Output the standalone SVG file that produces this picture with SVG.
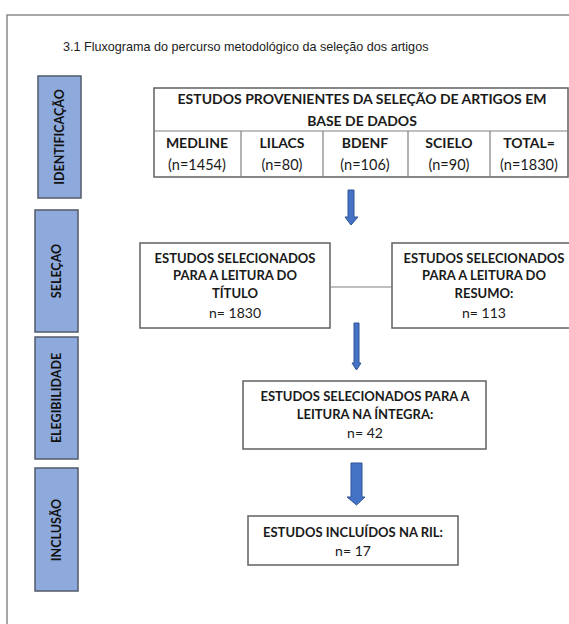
<svg xmlns="http://www.w3.org/2000/svg" width="569" height="624" viewBox="0 0 569 624">
<defs>
<style>
.frame{fill:none;stroke:#8a8a8a;stroke-width:1.5}
.side{fill:#8eaadc;stroke:#505a6a;stroke-width:1.5}
.side-t{font-family:Lato,"Open Sans",sans-serif;font-weight:700;font-size:12.5px;fill:#111;text-anchor:middle}
.box{fill:#fff;stroke:#606060;stroke-width:1.5}
.b{font-family:Lato,"Open Sans",sans-serif;font-weight:700;font-size:13px;fill:#1a1a1a;text-anchor:middle}
.tb{font-size:14px}
.r{font-family:Lato,"Open Sans",sans-serif;font-weight:400;font-size:14px;fill:#1a1a1a;text-anchor:middle}
.tr{font-size:14.5px}
.arrow{fill:#4472c4;stroke:#2f5597;stroke-width:1}
.line{stroke:#808080;stroke-width:1.2;fill:none}
.title{font-family:"Liberation Sans",Arial,sans-serif;font-size:12.6px;fill:#222}
</style>
</defs>
<rect width="569" height="624" fill="#fff"/>
<rect class="frame" x="7" y="15" width="580" height="640"/>
<text class="title" x="63" y="51">3.1 Fluxograma do percurso metodológico da seleção dos artigos</text>

<g id="stage-identificacao">
<rect class="side" x="38" y="76" width="43" height="122"/>
<text class="side-t" transform="translate(64,137) rotate(-90)">IDENTIFICAÇÃO</text>
</g>
<g id="stage-selecao">
<rect class="side" x="35" y="210" width="43" height="122"/>
<text class="side-t" transform="translate(61,271) rotate(-90)">SELEÇAO</text>
</g>
<g id="stage-elegibilidade">
<rect class="side" x="35" y="337" width="43" height="122"/>
<text class="side-t" transform="translate(61,398) rotate(-90)">ELEGIBILIDADE</text>
</g>
<g id="stage-inclusao">
<rect class="side" x="35" y="468" width="43" height="123"/>
<text class="side-t" transform="translate(61,530) rotate(-90)">INCLUSÃO</text>
</g>

<g id="databases">
<rect class="box" x="154" y="88" width="414" height="89"/>
<line class="line" x1="154" y1="131" x2="568" y2="131"/>
<line class="line" x1="241" y1="131" x2="241" y2="177"/>
<line class="line" x1="323" y1="131" x2="323" y2="177"/>
<line class="line" x1="408" y1="131" x2="408" y2="177"/>
<line class="line" x1="490" y1="131" x2="490" y2="177"/>
<text class="b tb" x="362" y="104">ESTUDOS PROVENIENTES DA SELEÇÃO DE ARTIGOS EM</text>
<text class="b tb" x="362" y="126">BASE DE DADOS</text>
<text class="b tb" x="197" y="148">MEDLINE</text>
<text class="r tr" x="197" y="170">(n=1454)</text>
<text class="b tb" x="282" y="148">LILACS</text>
<text class="r tr" x="282" y="170">(n=80)</text>
<text class="b tb" x="365" y="148">BDENF</text>
<text class="r tr" x="365" y="170">(n=106)</text>
<text class="b tb" x="449" y="148">SCIELO</text>
<text class="r tr" x="449" y="170">(n=90)</text>
<text class="b tb" x="529" y="148">TOTAL=</text>
<text class="r tr" x="529" y="170">(n=1830)</text>
</g>

<g id="titulo">
<rect class="box" x="140" y="243" width="190" height="85"/>
<text class="b" x="235" y="263">ESTUDOS SELECIONADOS</text>
<text class="b" x="235" y="280">PARA A LEITURA DO</text>
<text class="b" x="235" y="298">TÍTULO</text>
<text class="r" x="235" y="318">n= 1830</text>
</g>

<g id="resumo">
<rect class="box" x="392" y="243" width="190" height="85"/>
<text class="b" x="484" y="263">ESTUDOS SELECIONADOS</text>
<text class="b" x="484" y="280">PARA A LEITURA DO</text>
<text class="b" x="484" y="298">RESUMO:</text>
<text class="r" x="484" y="318">n= 113</text>
</g>

<g id="integra">
<rect class="box" x="243" y="381" width="243" height="68"/>
<text class="b" x="365" y="401">ESTUDOS SELECIONADOS PARA A</text>
<text class="b" x="365" y="419">LEITURA NA ÍNTEGRA:</text>
<text class="r" x="365" y="438">n= 42</text>
</g>

<g id="incluidos">
<rect class="box" x="248" y="516" width="210" height="49"/>
<text class="b" x="353" y="537">ESTUDOS INCLUÍDOS NA RIL:</text>
<text class="r" x="353" y="556">n= 17</text>
</g>

<g id="connectors">
<line class="line" x1="330" y1="287" x2="392" y2="287"/>
<polygon class="arrow" points="348,190 354,190 354,217 358,217 351,225 345,217 348,217"/>
<polygon class="arrow" points="354,323 359,323 359,363 361,363 356.5,370 352,363 354,363"/>
<polygon class="arrow" points="351,463 362,463 362,497 365,497 356.5,505 347,497 351,497"/>
</g>
</svg>
